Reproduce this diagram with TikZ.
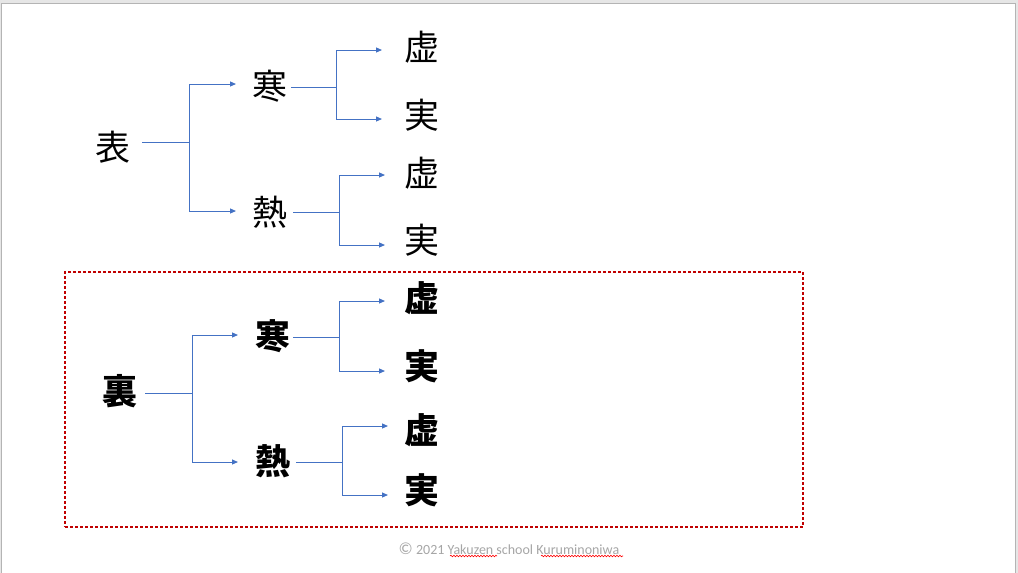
\documentclass[tikz,border=0pt]{standalone}
\usepackage{fontspec}
\setmainfont{Carlito}
\newfontfamily\cjk{Noto Sans CJK JP}
\usetikzlibrary{arrows.meta,decorations.pathmorphing}
\definecolor{conblue}{HTML}{4472C4}
\definecolor{boxred}{HTML}{C00000}
\definecolor{slidegray}{HTML}{E6E6E6}
\definecolor{slideedge}{HTML}{B4B4B4}
\definecolor{copygray}{HTML}{A6A6A6}
\tikzset{
  kanji/.style={font=\cjk\fontsize{35}{40}\selectfont, inner sep=0pt, text height=28.5pt, text depth=1.2pt, anchor=center},
  kanjib/.style={kanji, font=\cjk\bfseries\fontsize{35}{40}\selectfont},
  line/.style={draw=conblue, line width=1pt},
  arr/.style={line, -{Triangle[length=6pt,width=5pt]}},
  squig/.style={draw=red, line width=0.6pt, decorate, decoration={snake, amplitude=0.8pt, segment length=3pt}}
}
\begin{document}
\begin{tikzpicture}[x=1pt,y=-1pt]
\useasboundingbox (0,0) rectangle (1018,573);
\fill[slidegray] (0,0) rectangle (1018,573);
\fill[white] (1,3) rectangle (1015,574);
\draw[slideedge, line width=1pt] (1,574) -- (1,3) -- (1015,3) -- (1015,574);

% top tree
\node[kanji] (omote) at (113,147) {表};
\node[kanji] (kan1) at (270,86) {寒};
\node[kanji] (netsu1) at (270,212) {熱};
\node[kanji] (kyo1) at (422,47) {虚};
\node[kanji] (jitsu1) at (422,115) {実};
\node[kanji] (kyo2) at (422,173) {虚};
\node[kanji] (jitsu2) at (422,240) {実};

\draw[line] ([xshift=29pt,yshift=5pt]omote.center) -- ++(47,0) coordinate (ja);
\draw[arr] (ja) |- ([xshift=-34pt,yshift=2pt]kan1.center);
\draw[arr] (ja) |- ([xshift=-34pt,yshift=1pt]netsu1.center);
\draw[line] ([xshift=21pt,yshift=-1pt]kan1.center) -- ++(45,0) coordinate (jb);
\draw[arr] (jb) |- ([xshift=-40pt,yshift=-3pt]kyo1.center);
\draw[arr] (jb) |- ([xshift=-40pt,yshift=-4pt]jitsu1.center);
\draw[line] ([xshift=23pt]netsu1.center) -- ++(46,0) coordinate (jc);
\draw[arr] (jc) |- ([xshift=-37pt,yshift=-2pt]kyo2.center);
\draw[arr] (jc) |- ([xshift=-37pt,yshift=-5pt]jitsu2.center);

% bottom tree
\node[draw=boxred, line width=1.3pt, dash pattern=on 3pt off 2pt, minimum width=738pt, minimum height=255pt, inner sep=0pt] (box) at (434,399.5) {};
\node[kanjib] (ura) at (120,391) {裏};
\node[kanjib] (kan2) at (273,336) {寒};
\node[kanjib] (netsu2) at (273,461) {熱};
\node[kanjib] (kyo3) at (422,298) {虚};
\node[kanjib] (jitsu3) at (422,366) {実};
\node[kanjib] (kyo4) at (422,430) {虚};
\node[kanjib] (jitsu4) at (422,490) {実};

\draw[line] ([xshift=25pt,yshift=-2pt]ura.center) -- ++(47,0) coordinate (jd);
\draw[arr] (jd) |- ([xshift=-35pt,yshift=1pt]kan2.center);
\draw[arr] (jd) |- ([xshift=-35pt,yshift=-1pt]netsu2.center);
\draw[line] ([xshift=20pt,yshift=-1pt]kan2.center) -- ++(46,0) coordinate (je);
\draw[arr] (je) |- ([xshift=-37pt,yshift=-3pt]kyo3.center);
\draw[arr] (je) |- ([xshift=-37pt,yshift=-5pt]jitsu3.center);
\draw[line] ([xshift=23pt,yshift=-1pt]netsu2.center) -- ++(46,0) coordinate (jf);
\draw[arr] (jf) |- ([xshift=-34pt,yshift=4pt]kyo4.center);
\draw[arr] (jf) |- ([xshift=-34pt,yshift=-5pt]jitsu4.center);

% copyright
\node[font=\fontsize{14}{16}\selectfont, text=copygray, inner sep=0pt] (copy) at (509,549) {{\fontsize{17}{16}\selectfont ©} 2021 Yakuzen school Kuruminoniwa};
\draw[squig] (450,556) -- (497,556);
\draw[squig] (541,556) -- (623,556);
\end{tikzpicture}
\end{document}
